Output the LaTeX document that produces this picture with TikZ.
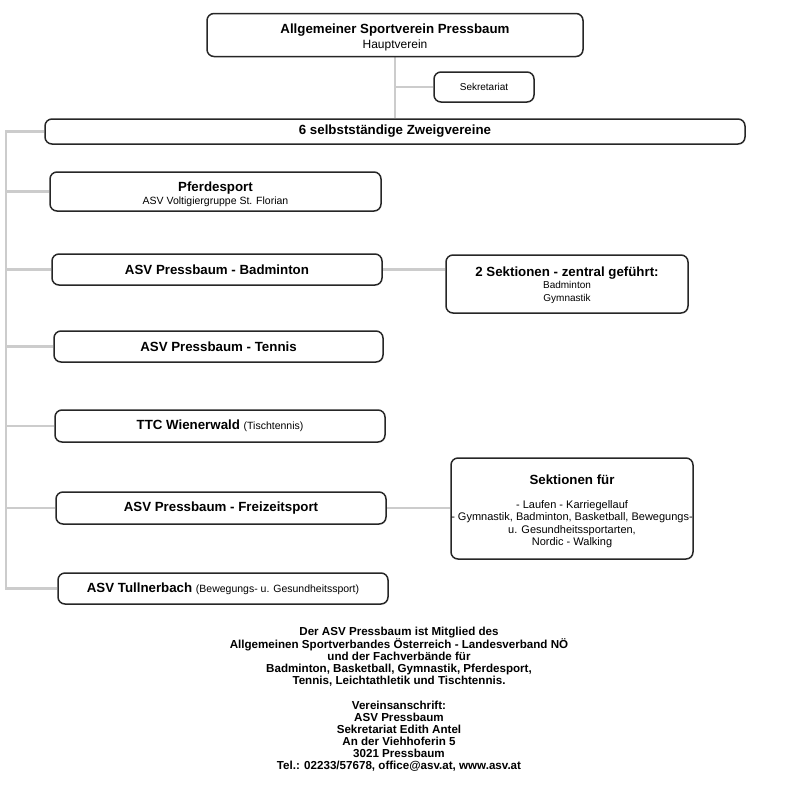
\documentclass[tikz,border=0pt]{standalone}
\usepackage{fontspec}
\setmainfont{Liberation Sans}
\usetikzlibrary{backgrounds, positioning, calc}
\definecolor{linegray}{RGB}{204,204,204}

\begin{document}
\begin{tikzpicture}[
				x=1pt, y=-1pt,
				box/.style={draw=black!85, line width=1.5pt, rounded corners=7pt, fill=white, align=center, inner sep=0pt},
				link/.style={draw=linegray, line width=2.6pt},
				head/.style={font=\bfseries\fontsize{13.3pt}{15pt}\selectfont},
				note/.style={font=\fontsize{10.5pt}{12pt}\selectfont}
				]
				\useasboundingbox (0,0) rectangle (794,790);
				
				% Hauptverein
				\node[box, minimum width=376pt, minimum height=43pt] (haupt) at (395,35)
				{{\bfseries\fontsize{13.3pt}{15pt}\selectfont\rule{0pt}{13.5pt}Allgemeiner Sportverein Pressbaum}\\[3pt]
				{\fontsize{12pt}{13pt}\selectfont Hauptverein}};
				\node[box, font=\fontsize{10pt}{12pt}\selectfont, minimum width=100pt, minimum height=30pt] (sek) at (484,87) {Sekretariat};
				\node[box, head, minimum width=700pt, minimum height=25pt] (zweig) at (395,131.5) {6 selbstständige Zweigvereine};
				
				% Zweigvereine
				\node[box, minimum width=331pt, minimum height=39pt] (pferd) at (215.5,191.5)
				{{\bfseries\fontsize{13.3pt}{15pt}\selectfont\rule{0pt}{15pt}Pferdesport}\\[1pt]
				{\fontsize{10.5pt}{12pt}\selectfont ASV Voltigiergruppe St. Florian}};
				\node[box, head, minimum width=330pt, minimum height=31pt] (badm) at (217,269.5) {ASV Pressbaum - Badminton};
				\node[box, head, minimum width=329pt, minimum height=31pt] (tennis) at (218.5,346.5) {ASV Pressbaum - Tennis};
				\node[box, head, minimum width=330pt, minimum height=32pt] (ttc) at (220,426)
				{TTC Wienerwald {\mdseries\fontsize{10.5pt}{12pt}\selectfont(Tischtennis)}};
				\node[box, head, minimum width=330pt, minimum height=32pt] (frei) at (221,508) {ASV Pressbaum - Freizeitsport};
				\node[box, head, minimum width=330pt, minimum height=31pt] (tull) at (223,588.5)
				{ASV Tullnerbach {\mdseries\fontsize{10.5pt}{12pt}\selectfont(Bewegungs- u. Gesundheitssport)}};
				
				% Sektionen
				\node[box, minimum width=242pt, minimum height=58pt] (sekt2) at (567,284)
				{{\bfseries\fontsize{13.3pt}{15pt}\selectfont\rule{0pt}{12pt}2 Sektionen - zentral geführt:}\\[0pt]
				{\fontsize{10pt}{13pt}\selectfont Badminton}\\[1.5pt]
				{\fontsize{10pt}{13pt}\selectfont Gymnastik}};
				\node[box, minimum width=242pt, minimum height=101pt, font=\fontsize{11pt}{12.3pt}\selectfont] (sektf) at (572,508.5)
				{{\bfseries\fontsize{13.3pt}{15pt}\selectfont\rule{0pt}{15pt}Sektionen für}\\[12pt]
				- Laufen - Karriegellauf\\
				- Gymnastik, Badminton, Basketball, Bewegungs-\\
				u. Gesundheitssportarten,\\
				Nordic - Walking};
				
				% Fusstext
				\node[align=center, inner sep=0pt, font=\bfseries\fontsize{11.6pt}{12pt}\selectfont] (info) at (399,699)
				{Der ASV Pressbaum ist Mitglied des\\
				Allgemeinen Sportverbandes Österreich - Landesverband NÖ\\
				und der Fachverbände für\\
				Badminton, Basketball, Gymnastik, Pferdesport,\\
				Tennis, Leichtathletik und Tischtennis.\\[13pt]
				Vereinsanschrift:\\
				ASV Pressbaum\\
				Sekretariat Edith Antel\\
				An der Viehhoferin 5\\
				3021 Pressbaum\\
				Tel.: 02233/57678, office@asv.at, www.asv.at};
				
				% Linien
				\coordinate (bus) at (6,131.5);
				\begin{scope}[on background layer]
					\draw[link] (haupt.south) -- (zweig.north);
					\draw[link] (haupt.south |- sek.west) -- (sek.west);
					\draw[link] (zweig.west) -- (bus) -- (bus |- tull.west) -- (tull.west);
					\foreach \n in {pferd, badm, tennis, ttc, frei}
					\draw[link] (bus |- \n.west) -- (\n.west);
					\draw[link] (badm.east) -- (badm.east -| sekt2.west);
					\draw[link] (frei.east) -- (frei.east -| sektf.west);
				\end{scope}
				
			\end{tikzpicture}
\end{document}
